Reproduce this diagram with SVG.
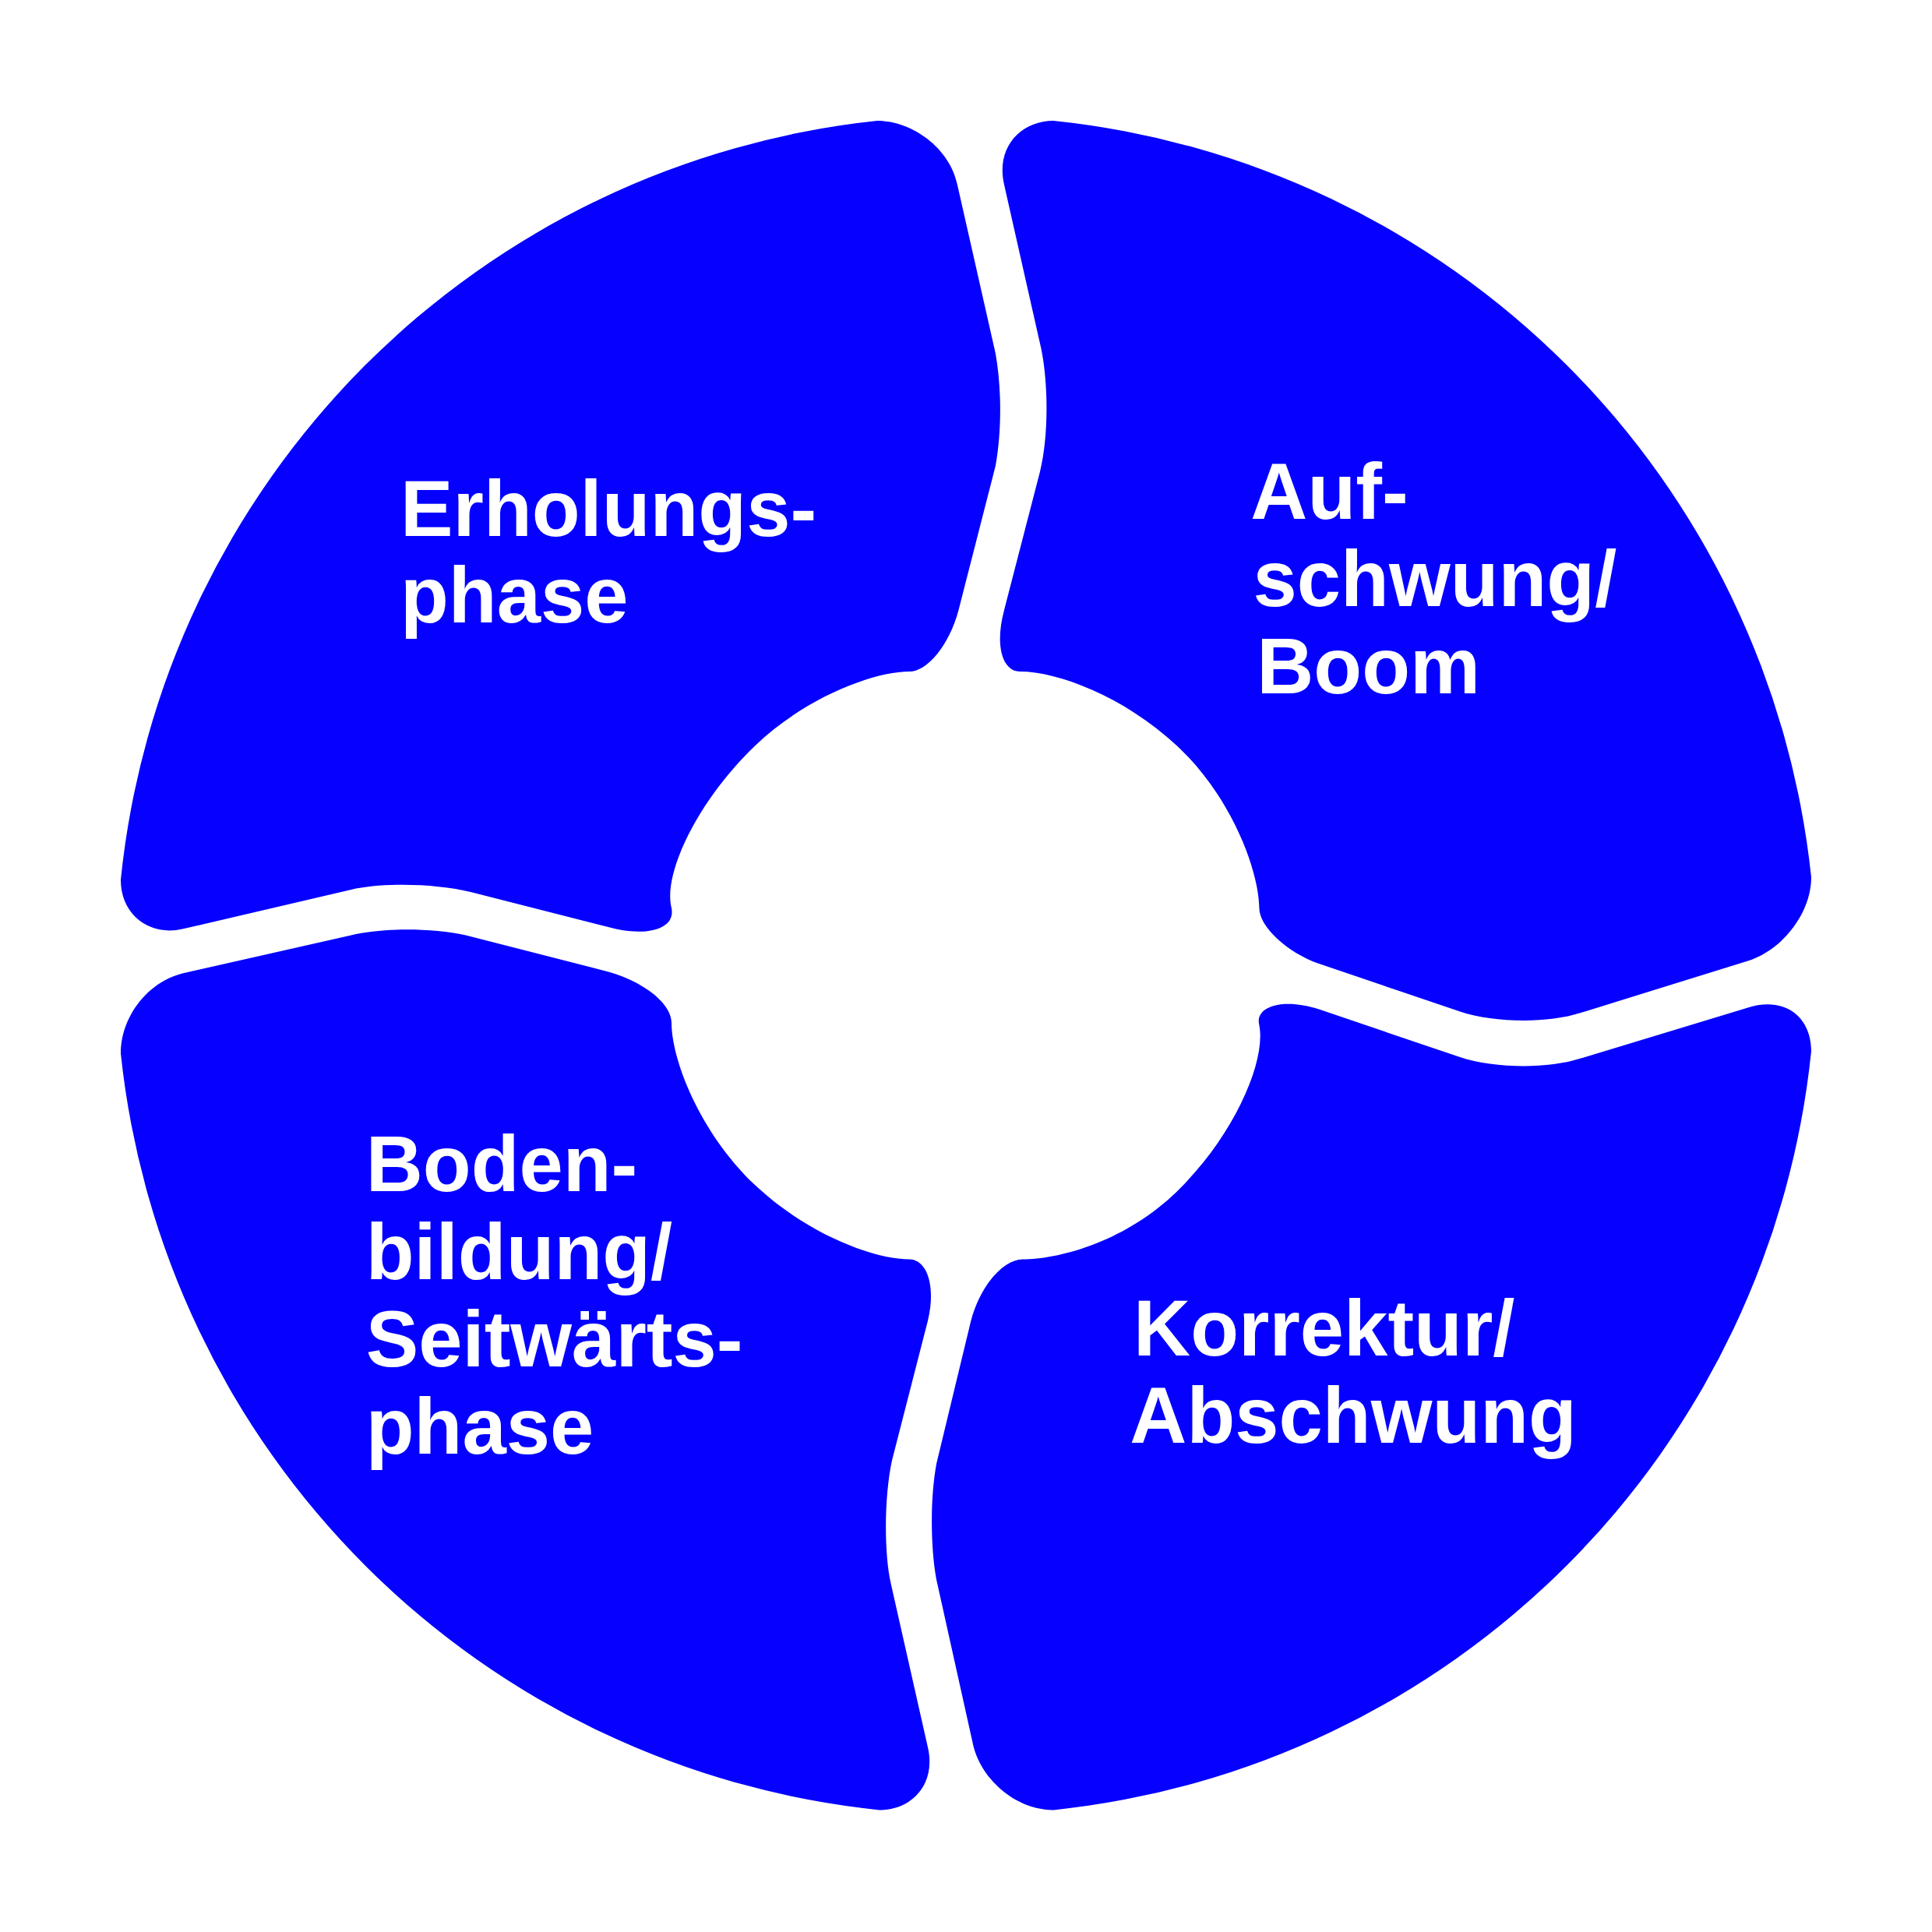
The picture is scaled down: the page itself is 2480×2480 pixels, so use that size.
<svg xmlns="http://www.w3.org/2000/svg" width="2480" height="2480" viewBox="0 0 2480 2480">
<style>
.seg{fill:#0500FF}
.t{fill:#fff;font-family:"Liberation Sans",Arial,sans-serif;font-weight:bold;font-size:64px}
</style>
<rect width="2480" height="2480" fill="#fff"/>
<g transform="scale(1.58163)">
<g id="erholung">
<path class="seg" d="M712 98 C740 98 771 120 777 150 L808 287 C813 315 813 350 808 378 L778 495 C770 525 752 545 738 545 C710 545 655 565 613 605 C565 651 538 710 545 737 C548 752 530 760 500 754 L382 724 C355 717 310 716 285 722 L148 754 C122 760 98 743 98 714 A690 690 0 0 1 712 98 Z"/>
<text class="t" x="325" y="435">Erholungs-</text>
<text class="t" x="325" y="505">phase</text>
</g>
<g id="aufschwung">
<path class="seg" d="M855 98 C828 98 808 120 815 150 L845 283 C851 312 851 355 844 383 L815 495 C807 525 814 545 828 545 C858 545 912 565 955 605 C1002 649 1022 710 1022 737 C1022 752 1045 773 1070 782 L1185 821 C1212 830 1255 831 1283 822 L1418 780 C1447 771 1470 741 1470 712 A690 690 0 0 0 855 98 Z"/>
<text class="t" x="1015" y="421">Auf-</text>
<text class="t" x="1017" y="492">schwung/</text>
<text class="t" x="1020" y="563">Boom</text>
</g>
<g id="korrektur">
<path class="seg" d="M1470 853 C1470 825 1448 808 1418 818 L1283 859 C1255 868 1212 867 1185 858 L1070 819 C1043 810 1018 816 1022 832 C1028 862 1000 925 952 970 C910 1009 858 1022 830 1022 C815 1022 796 1042 788 1072 L760 1188 C755 1215 755 1255 760 1282 L790 1417 C797 1445 825 1469 855 1469 A690 690 0 0 0 1470 853 Z"/>
<text class="t" x="920" y="1100">Korrektur/</text>
<text class="t" x="917" y="1171">Abschwung</text>
</g>
<g id="bodenbildung">
<path class="seg" d="M148 790 C120 797 98 825 98 855 A690 690 0 0 0 714 1469 C740 1469 760 1448 753 1418 L723 1285 C717 1258 718 1212 724 1185 L753 1072 C760 1043 752 1022 738 1022 C710 1022 655 1002 612 961 C568 919 545 860 545 830 C545 815 523 797 495 789 L378 759 C350 753 310 753 285 759 Z"/>
<text class="t" x="297" y="967">Boden-</text>
<text class="t" x="297" y="1038">bildung/</text>
<text class="t" x="297" y="1109">Seitwärts-</text>
<text class="t" x="297" y="1180">phase</text>
</g>
<g id="connectors"/>
</g>
</svg>
